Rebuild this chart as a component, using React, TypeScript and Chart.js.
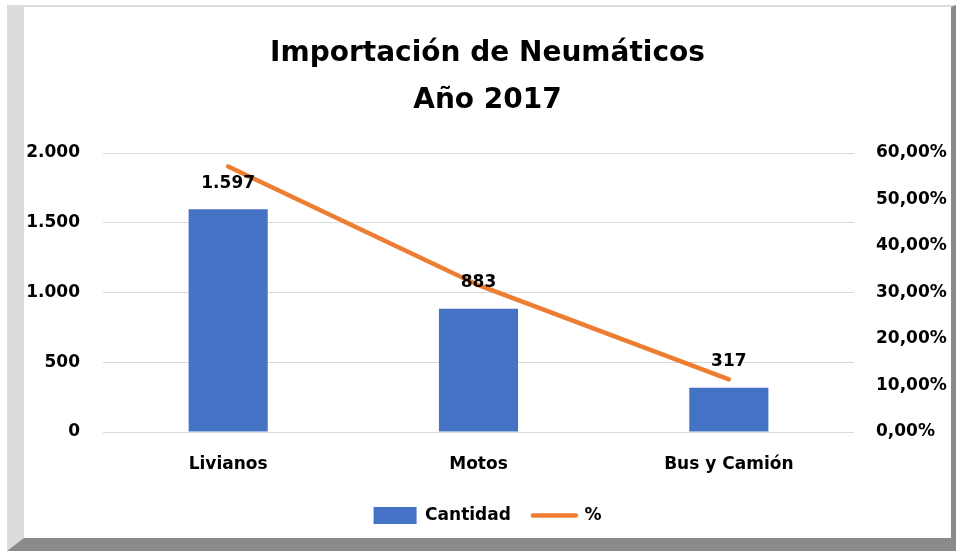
import React, { useEffect, useRef } from "react";
import { Chart, registerables } from "chart.js";

Chart.register(...registerables);

const titleLines = ["Importación de Neumáticos", "Año 2017"];
const categories = ["Livianos", "Motos", "Bus y Camión"];
const cantidad = [1597, 883, 317];
const porcentaje = [57.09, 31.57, 11.33];
const leftAxis = { min: 0, max: 2000, step: 500 };
const rightAxis = { min: 0, max: 60, step: 10 };
const seriesNames = ["Cantidad", "%"];

const BLUE = "#4472C4";
const ORANGE = "#ED7D31";
const FONT = "'DejaVu Sans', sans-serif";

const fmtThousands = (v: number) =>
  String(Math.round(v)).replace(/\B(?=(\d{3})+(?!\d))/g, ".");
const fmtPct = (v: number) => v.toFixed(2).replace(".", ",") + "%";

const barLabels = {
  id: "barLabels",
  afterDatasetsDraw(chart: any) {
    const meta = chart.getDatasetMeta(0);
    const ctx = chart.ctx;
    ctx.save();
    ctx.font = `bold 17px ${FONT}`;
    ctx.fillStyle = "#000";
    ctx.textAlign = "center";
    ctx.textBaseline = "middle";
    meta.data.forEach((el: any, i: number) => {
      ctx.fillText(fmtThousands(cantidad[i]), el.x, el.y - 26);
    });
    ctx.restore();
  },
};

export default function App() {
  const ref = useRef<HTMLCanvasElement | null>(null);

  useEffect(() => {
    if (!ref.current) return;
    const chart = new Chart(ref.current, {
      type: "bar",
      data: {
        labels: categories,
        datasets: [
          {
            type: "bar",
            label: seriesNames[0],
            data: cantidad,
            backgroundColor: BLUE,
            borderWidth: 0,
            yAxisID: "y",
            categoryPercentage: 1,
            barPercentage: 0.316,
          },
          {
            type: "line",
            label: seriesNames[1],
            data: porcentaje,
            borderColor: ORANGE,
            backgroundColor: ORANGE,
            borderWidth: 4.5,
            borderCapStyle: "round",
            pointRadius: 0,
            tension: 0,
            yAxisID: "y1",
          },
        ],
      } as any,
      plugins: [barLabels],
      options: {
        animation: false,
        responsive: true,
        maintainAspectRatio: false,
        layout: { padding: { left: 0, right: 0, top: 0, bottom: 4 } },
        plugins: {
          tooltip: { enabled: false },
          title: {
            display: true,
            text: titleLines,
            color: "#000",
            font: { family: FONT, size: 28, weight: "bold", lineHeight: 47 / 28 },
            padding: { top: 23, bottom: 29 },
          },
          legend: {
            display: true,
            position: "bottom",
            labels: {
              color: "#000",
              font: { family: FONT, size: 17, weight: "bold" },
              usePointStyle: true,
              pointStyleWidth: 43,
              boxHeight: 17,
              padding: 22,
              generateLabels: (c: any) => {
                const items = (Chart.defaults.plugins.legend.labels as any).generateLabels(c);
                return items.map((it: any, i: number) =>
                  i === 0
                    ? { ...it, pointStyle: "rect", lineWidth: 0, fillStyle: BLUE, strokeStyle: BLUE }
                    : { ...it, pointStyle: "line", lineWidth: 4.5, strokeStyle: ORANGE, lineCap: "round" }
                );
              },
            },
          },
        },
        scales: {
          x: {
            grid: { display: false },
            border: { display: false },
            ticks: {
              color: "#000",
              font: { family: FONT, size: 17, weight: "bold" },
              padding: 14,
            },
            afterFit: (s: any) => {
              s.height = 53;
            },
          },
          y: {
            position: "left",
            min: leftAxis.min,
            max: leftAxis.max,
            grid: { color: "#d9d9d9", lineWidth: 1, drawTicks: false },
            border: { display: false },
            ticks: {
              stepSize: leftAxis.step,
              color: "#000",
              font: { family: FONT, size: 17, weight: "bold" },
              padding: 23,
              callback: (v: any) => fmtThousands(Number(v)),
            },
            afterFit: (s: any) => {
              s.width = 79;
            },
          },
          y1: {
            position: "right",
            min: rightAxis.min,
            max: rightAxis.max,
            grid: { display: false, drawTicks: false },
            border: { display: false },
            ticks: {
              stepSize: rightAxis.step,
              color: "#000",
              font: { family: FONT, size: 17, weight: "bold" },
              padding: 22,
              callback: (v: any) => fmtPct(Number(v)),
            },
            afterFit: (s: any) => {
              s.width = 97;
            },
          },
        },
      } as any,
    });
    return () => chart.destroy();
  }, []);

  return (
    <div style={{ position: "fixed", left: 0, top: 0, width: 956, height: 551, background: "#fff" }}>
      <div
        style={{
          position: "absolute",
          left: 7,
          top: 5,
          width: 949,
          height: 546,
          boxSizing: "border-box",
          borderLeft: "17px solid #dcdcdc",
          borderTop: "2px solid #dcdcdc",
          borderRight: "5px solid #8a8a8a",
          borderBottom: "13px solid #8a8a8a",
          background: "#fff",
        }}
      />
      <div
        style={{
          position: "absolute",
          left: 24,
          top: 7,
          width: 927,
          height: 531,
        }}
      >
        <canvas ref={ref} />
      </div>
    </div>
  );
}
